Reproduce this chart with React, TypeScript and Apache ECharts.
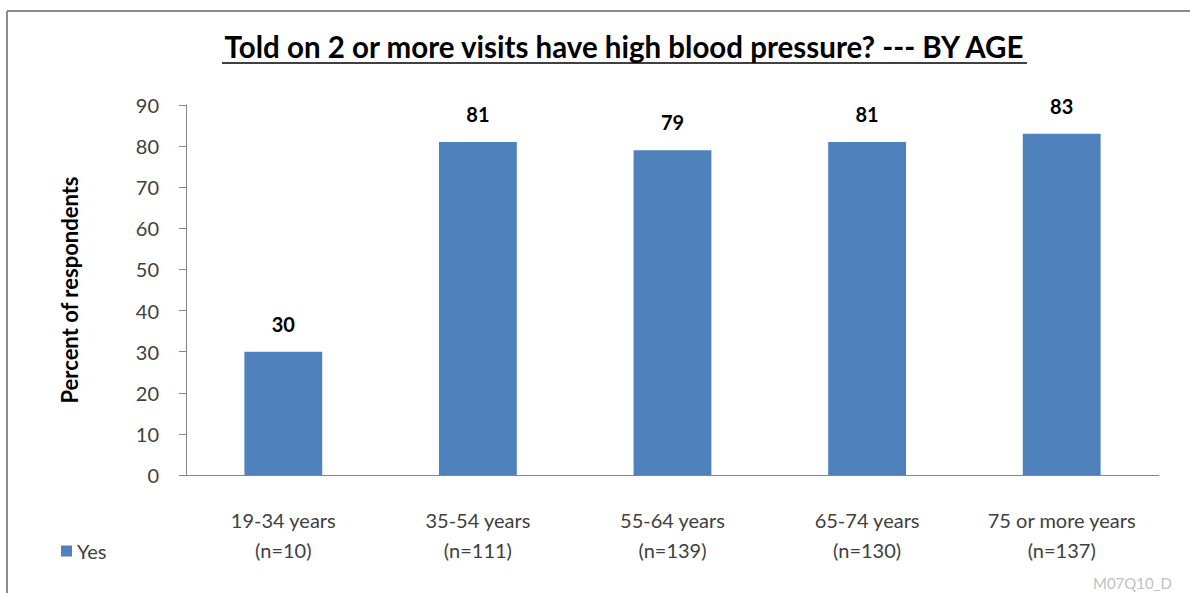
import React, { useEffect, useRef } from "react";
import * as echarts from "echarts";

const categories = [
  "19-34 years\n(n=10)",
  "35-54 years\n(n=111)",
  "55-64 years\n(n=139)",
  "65-74 years\n(n=130)",
  "75 or more years\n(n=137)",
];
const yesValues = [30, 81, 79, 81, 83];
const titleText = "Told on 2 or more visits have high blood pressure? --- BY AGE";
const yAxisName = "Percent of respondents";
const footnote = "M07Q10_D";

const FONT = "Lato, 'Open Sans', sans-serif";

export default function App() {
  const ref = useRef<HTMLDivElement>(null);
  useEffect(() => {
    if (!ref.current) return;
    const chart = echarts.init(ref.current, null, { renderer: "svg" });
    chart.setOption({
      animation: false,
      backgroundColor: "#ffffff",
      textStyle: { fontFamily: FONT },
      grid: { left: 186, right: 31, top: 105, bottom: 118, containLabel: false },
      legend: {
        data: ["Yes"],
        left: 56,
        top: 536,
        itemWidth: 11,
        itemHeight: 11,
        icon: "rect",
        textStyle: { color: "#404040", fontSize: 20, fontFamily: FONT },
      },
      xAxis: {
        type: "category",
        data: categories,
        axisLine: { lineStyle: { color: "#868686", width: 1 } },
        axisTick: { show: false },
        axisLabel: {
          color: "#404040",
          fontSize: 20,
          lineHeight: 30,
          margin: 30,
          fontFamily: FONT,
          interval: 0,
        },
      },
      yAxis: {
        type: "value",
        min: 0,
        max: 90,
        interval: 10,
        name: yAxisName,
        nameLocation: "middle",
        nameGap: 106,
        nameTextStyle: { color: "#000000", fontSize: 22, fontWeight: "bold", fontFamily: FONT },
        axisLine: { show: true, lineStyle: { color: "#868686", width: 1 } },
        axisTick: { show: true, length: 7, lineStyle: { color: "#868686" } },
        splitLine: { show: false },
        axisLabel: { color: "#404040", fontSize: 20, margin: 27, fontFamily: FONT },
      },
      series: [
        {
          name: "Yes",
          type: "bar",
          data: yesValues,
          barWidth: "40%",
          itemStyle: { color: "#4F81BD" },
          label: {
            show: true,
            position: "top",
            distance: 18,
            color: "#000000",
            fontSize: 20,
            fontWeight: "bold",
            fontFamily: FONT,
          },
        },
      ],
      graphic: [
        {
          type: "line",
          shape: { x1: 7, y1: 11, x2: 1190, y2: 11 },
          style: { stroke: "#8c8c8c", lineWidth: 2 },
        },
        {
          type: "line",
          shape: { x1: 7, y1: 11, x2: 7, y2: 593 },
          style: { stroke: "#8c8c8c", lineWidth: 2 },
        },
        {
          type: "text",
          x: 624,
          y: 46,
          style: {
            text: titleText,
            fontSize: 29.5,
            fontWeight: "bold",
            fontFamily: FONT,
            fill: "#000000",
            align: "center",
            verticalAlign: "middle",
          },
        },
        {
          type: "line",
          shape: { x1: 222, y1: 63, x2: 1027, y2: 63 },
          style: { stroke: "#000000", lineWidth: 1.5 },
        },
        {
          type: "text",
          right: 18,
          top: 575,
          style: {
            text: footnote,
            fontSize: 15,
            fontFamily: FONT,
            fill: "#bfbfbf",
          },
        },
      ],
    });
    return () => chart.dispose();
  }, []);
  return (
    <div
      ref={ref}
      style={{ position: "fixed", left: 0, top: 0, width: 1190, height: 593 }}
    />
  );
}
